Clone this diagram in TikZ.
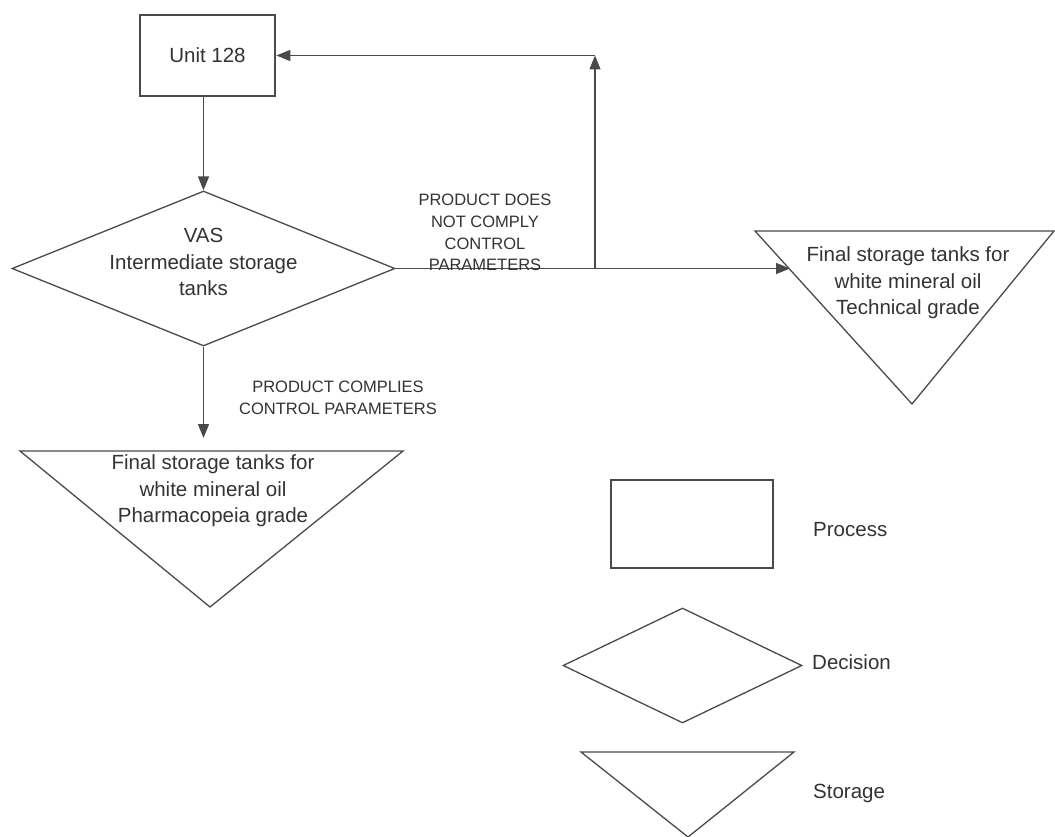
\documentclass[tikz,border=0pt]{standalone}
\usepackage{fontspec}
\setmainfont{Liberation Sans}
\usetikzlibrary{shapes.geometric,arrows.meta}
\definecolor{ln}{HTML}{4A4A4A}
\definecolor{tx}{HTML}{333333}
\begin{document}
\begin{tikzpicture}[x=1pt,y=-1pt,
  every node/.style={text=tx},
  shp/.style={draw=ln,line width=1.3pt,line join=miter},
  procbox/.style={shp,rectangle,inner sep=0pt},
  decis/.style={shp,diamond,inner sep=0pt,aspect=2.47},
  txt/.style={align=center,font=\fontsize{20.5}{26.5}\selectfont,inner sep=0pt},
  lbl/.style={align=center,font=\fontsize{16.5}{21.7}\selectfont,inner sep=0pt},
  leg/.style={anchor=west,font=\fontsize{20.5}{26.5}\selectfont,inner sep=0pt},
  arr/.style={draw=ln,line width=1.5pt,-{Triangle[length=14pt,width=11pt]}},
  ]
\useasboundingbox (0,0) rectangle (1055,837);
\fill[white] (0,0) rectangle (1055,837);

% Unit 128
\node[procbox,line width=2.6pt,minimum width=135pt,minimum height=81pt,font=\fontsize{20.5}{26.5}\selectfont] (unit) at (207.5,55.5) {Unit 128};

% Decision diamond
\node[decis,minimum width=383pt,minimum height=155pt] (vas) at (203.5,268.5) {};
\node[txt] (vastxt) at (203.5,262) {VAS\\Intermediate storage\\tanks};

% Pharmacopeia storage
\coordinate (pa) at (20,451);
\coordinate (pb) at (403,451);
\coordinate (pc) at (210,607);
\draw[shp] (pa) -- (pb) -- (pc) -- cycle;
\coordinate (ptop) at (203.5,451);
\node[txt] (phtxt) at (213,491) {Final storage tanks for\\white mineral oil\\Pharmacopeia grade};

% Technical storage
\coordinate (ta) at (755,231);
\coordinate (tb) at (1054,231);
\coordinate (tc) at (912,404);
\draw[shp] (ta) -- (tb) -- (tc) -- cycle;
\coordinate (tleft) at (790,268.5);
\node[txt] (tetxt) at (908,283) {Final storage tanks for\\white mineral oil\\Technical grade};

% connectors
\draw[arr] (unit.south -| vas.north) -- (vas.north);
\draw[arr,shorten >=13pt] (vas.south) -- (ptop);
\draw[arr] (vas.east) -- (tleft);
\coordinate (jn) at (595,268.5);
\coordinate (corner) at (unit.east -| jn);
\draw[arr] (jn) -- (corner);
\draw[arr] (corner) -- (unit.east);

% labels
\node[lbl] (nc) at (485,232.5) {PRODUCT DOES\\NOT COMPLY\\CONTROL\\PARAMETERS};
\node[lbl] (cp) at (338,398) {PRODUCT COMPLIES\\CONTROL PARAMETERS};

% legend
\node[procbox,minimum width=162pt,minimum height=88pt] (lproc) at (692,524) {};
\node[leg] (lproct) at (813,530) {Process};
\node[decis,minimum width=239pt,minimum height=115pt] (ldec) at (682.5,665.5) {};
\node[leg] (ldect) at (812,662) {Decision};
\coordinate (la) at (581,752);
\coordinate (lb) at (794,752);
\coordinate (lc) at (688,837);
\draw[shp] (la) -- (lb) -- (lc) -- cycle;
\node[leg] (lstot) at (813,793) {Storage};
\end{tikzpicture}
\end{document}
